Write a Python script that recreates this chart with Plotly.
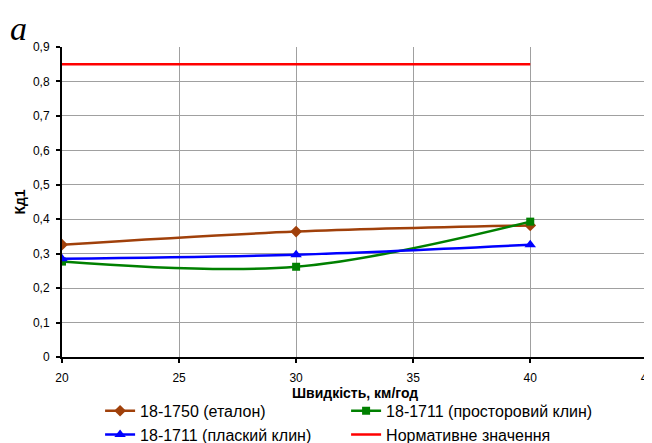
import plotly.graph_objects as go

# speed, km/h
speed = [20, 30, 40]

# Kd1 values
etalon = [0.326, 0.364, 0.382]
prostorovyi = [0.277, 0.262, 0.393]
plaskyi = [0.285, 0.297, 0.326]
norm = [0.85, 0.85, 0.85]

y_ticks = [0, 0.1, 0.2, 0.3, 0.4, 0.5, 0.6, 0.7, 0.8, 0.9]
y_labels = ["0", "0,1", "0,2", "0,3", "0,4", "0,5", "0,6", "0,7", "0,8", "0,9"]
x_ticks = [20, 25, 30, 35, 40, 45]

fig = go.Figure()
fig.add_trace(go.Scatter(x=speed, y=etalon, name="18-1750 (еталон)", mode="lines+markers",
                         line=dict(color="#a0400a", width=2.5, shape="spline"),
                         marker=dict(symbol="diamond", size=9, color="#a0400a")))
fig.add_trace(go.Scatter(x=speed, y=prostorovyi, name="18-1711 (просторовий клин)", mode="lines+markers",
                         line=dict(color="#008000", width=2.5, shape="spline"),
                         marker=dict(symbol="square", size=8, color="#008000")))
fig.add_trace(go.Scatter(x=speed, y=plaskyi, name="18-1711 (плаский клин)", mode="lines+markers",
                         line=dict(color="#0000ff", width=2.5, shape="spline"),
                         marker=dict(symbol="triangle-up", size=10, color="#0000ff")))
fig.add_trace(go.Scatter(x=speed, y=norm, name="Нормативне значення", mode="lines",
                         line=dict(color="#ff0000", width=2.5)))

# page body has an 8px default margin, so the figure is a bit smaller than the window
fig.update_layout(
    width=644, height=435,
    margin=dict(l=54, r=4, t=39, b=86, autoexpand=False),
    plot_bgcolor="white", paper_bgcolor="white",
    font=dict(family="Liberation Sans, Arial", size=12, color="black"),
    showlegend=True,
    legend=dict(orientation="h", x=0.065, xanchor="left", y=0.113, yanchor="top",
                yref="container", entrywidth=201, entrywidthmode="pixels",
                font=dict(size=16), tracegroupgap=0, itemwidth=30),
)
fig.add_annotation(text="<i>a</i>", xref="paper", yref="paper", x=-0.092, y=1.125,
                   xanchor="left", yanchor="top", showarrow=False,
                   font=dict(family="Liberation Serif", size=34, color="black"))
fig.add_annotation(text="<b>Швидкість, км/год</b>", xref="paper", yref="paper", x=0.5, y=-0.116,
                   xanchor="center", yanchor="middle", showarrow=False,
                   font=dict(size=14, color="black"))

fig.update_xaxes(range=[20, 45.03], tickvals=x_ticks, ticks="outside", ticklen=4, tickwidth=2,
                 tickcolor="black", showline=True, linecolor="black", linewidth=2,
                 showgrid=True, gridcolor="#a0a0a0", gridwidth=1, zeroline=False,
                 ticklabelstandoff=5, ticklabeloverflow="allow")
fig.update_yaxes(range=[0, 0.9], tickvals=y_ticks, ticktext=y_labels, ticks="outside", ticklen=4,
                 tickwidth=2, tickcolor="black", showline=True, linecolor="black", linewidth=2,
                 showgrid=True, gridcolor="#a0a0a0", gridwidth=1, zeroline=False,
                 ticklabelstandoff=4,
                 title=dict(text="<b>Кд1</b>", font=dict(size=14), standoff=4))

fig.write_html("out.html")
